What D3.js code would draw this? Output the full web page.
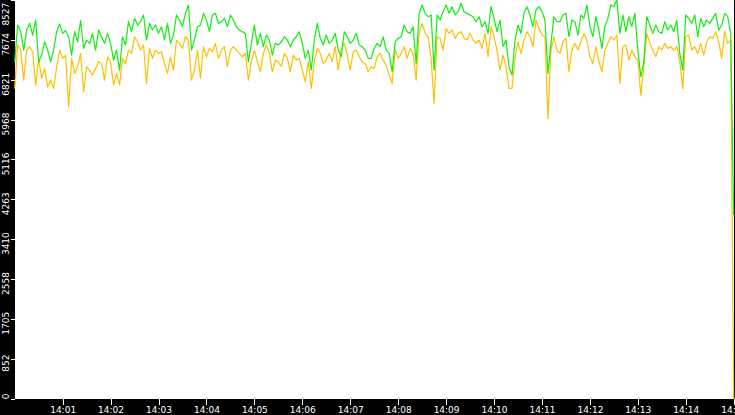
<!DOCTYPE html>
<html>
<head>
<meta charset="utf-8">
<style>
  html, body { margin: 0; padding: 0; background: #000; overflow: hidden; }
  svg { display: block; }
  .axis text { fill: #fff; font-family: 'DejaVu Sans', Verdana, sans-serif; font-size: 9px; }
  .axis line { stroke: #fff; shape-rendering: crispEdges; }
  .axis .domain { display: none; }
  .series { fill: none; stroke-width: 1.2px; stroke-linejoin: round; }
</style>
</head>
<body>
<svg width="735" height="415"></svg>
<script src="https://d3js.org/d3.v7.min.js"></script>
<script>
// sampling window of the two series
const startTime = "2024-01-01T14:00:00";
const endTime = "2024-01-01T14:15:00";

const xTickLabels = ["14:01", "14:02", "14:03", "14:04", "14:05", "14:06", "14:07", "14:08",
    "14:09", "14:10", "14:11", "14:12", "14:13", "14:14", "14:15"];
const yTickLabels = ["0", "852", "1705", "2558", "3410", "4263", "5116", "5968", "6821", "7674", "8527"];

// green series (upper)
const series1 = [
    7206, 7991, 7849, 7456, 7884, 8027, 7777, 8098, 7206, 7349, 7634, 7456, 7206, 7456, 7849, 8013, 7813, 7870, 7741, 7349,
    7849, 7634, 8084, 7491, 7670, 7599, 7813, 7456, 7884, 7741,
    7599, 7813, 7599, 7241, 7456, 7027, 7741, 7563, 8063, 7849, 8134, 7991, 8063, 8206, 7670, 8027, 7884, 7991, 7813, 7956,
    7670, 8027, 7599, 7777, 8206, 8098, 7956, 8241, 8420, 7456,
    7670, 7956, 7991, 8241, 8098, 7849, 8206, 8241, 8027, 8063, 8134, 7956, 8206, 8098, 7956, 7884, 7849, 7813, 7206, 7599,
    7991, 7563, 7813, 7527, 7777, 7670, 7349, 7599, 7563, 7634,
    7741, 7670, 7527, 7670, 7741, 7849, 7599, 7277, 7456, 7027, 7670, 8027, 7706, 7563, 7777, 7599, 7670, 7813, 7456, 7313,
    7849, 7741, 7599, 7670, 7813, 7563, 7527, 7456, 7277, 7277,
    7491, 7599, 7527, 7741, 7456, 7384, 6991, 7634, 7706, 7741, 7991, 7849, 7813, 7956, 7170, 8241, 8420, 8241, 8170, 8206,
    7027, 8206, 8098, 8277, 8420, 8241, 8384, 8206, 8277, 8456, 8277,
    8241, 8206, 8170, 8063, 8170, 7956, 8063, 7813, 8384, 8134, 7849, 8098, 7527, 7670, 7099, 6920, 7670, 7991, 7813, 8241,
    8384, 8206, 7956, 8313, 8384, 8277, 8098, 6956, 7599, 8170, 8063,
    8063, 8206, 8241, 7741, 8098, 8063, 7777, 8206, 8134, 8420, 7956, 7741, 8170, 7884, 7491, 7956, 8134, 8420, 8384, 8527,
    7813, 8206, 7849, 8170, 7956, 8241, 7456, 6884, 7206, 8170, 7991, 7813, 7991, 7849, 7813, 8063, 7884, 7991, 7849, 8098,
    7384, 7027, 8206, 8134, 8027, 8206, 7741, 8134, 7956, 8098, 8027, 8134, 8241, 7884, 7991, 8241, 8170, 7813,
    3920
];

// yellow series (lower)
const series2 = [
    6634, 7563, 7456, 6813, 7456, 7527, 7420, 6706, 7277, 6849, 7063, 6670, 6813, 6634, 7099, 7456, 7277, 7349, 6242, 7277,
    6956, 7099, 7384, 6563, 7099, 7027, 6920, 7063, 7206, 7170,
    6813, 7313, 7206, 6706, 6956, 6706, 7277, 7170, 7456, 7384, 7741, 7634, 7456, 7563, 6741, 7491, 7277, 7456, 7384, 7420,
    7170, 6956, 7313, 7027, 7670, 7599, 7491, 7741, 7670, 6813,
    7027, 7456, 6849, 7527, 7313, 7491, 7420, 7599, 7277, 7456, 7527, 7099, 7456, 7527, 7456, 7384, 7313, 7384, 6813, 7206,
    7456, 7206, 6991, 7384, 7563, 7384, 6991, 7241, 7206, 7099,
    7384, 7277, 6991, 7349, 7241, 7277, 7027, 6777, 7206, 6634, 7206, 7491, 7384, 7170, 7241, 7384, 7206, 7527, 7027, 7456,
    7599, 7349, 7027, 7420, 7456, 7313, 7206, 7170, 6991, 7099,
    7063, 7313, 7384, 7241, 7134, 6920, 6741, 7456, 7277, 7384, 7527, 7277, 7491, 7384, 6813, 7813, 8027, 7813, 7741, 7277,
    6313, 7741, 7706, 7456, 7920, 7813, 7884, 7706, 7813, 7849, 7706,
    7670, 7813, 7670, 7599, 7670, 7491, 7813, 7313, 7956, 7741, 7456, 7027, 7349, 7099, 6634, 6634, 7277, 7634, 7384, 7670,
    7849, 7741, 7527, 8098, 7920, 7777, 7741, 5992, 7456, 7741, 7456,
    7384, 7634, 7706, 6991, 7456, 7599, 7456, 7634, 7813, 7670, 7313, 7170, 7527, 7206, 6991, 7456, 7599, 7741, 7670, 7777,
    6741, 7527, 7563, 7241, 7456, 7313, 7241, 6492, 7099, 7813, 7599, 7456, 7313, 7527, 7456, 7599, 7491, 7527, 7456, 7527,
    7206, 6634, 7741, 7777, 7456, 7527, 7384, 7599, 7349, 7634, 7741, 7706, 7849, 7634, 7277, 7849, 7599, 7670,
    0
];

let width = 735;
let height = 415;
let margin = { top: 0, right: 1.3, bottom: 16, left: 14.7 };
let plotBottom = height - margin.bottom;

let svg = d3.select("svg");

let t0 = new Date(startTime);
let t1 = new Date(endTime);
let step = (t1 - t0) / (series1.length - 1);
let times = series1.map((d, i) => new Date(t0.getTime() + i * step));

let x = d3.scaleTime()
    .domain([t0, t1])
    .range([margin.left, width - margin.right]);

let y = d3.scaleLinear()
    .domain([0, d3.max(series1)])
    .range([plotBottom - 0.5, margin.top]);

// black frame, white plot
svg.append("rect")
    .attr("width", width)
    .attr("height", height)
    .style("fill", "#000");

svg.append("rect")
    .attr("x", 15)
    .attr("y", 0)
    .attr("width", width - 15 - 1)
    .attr("height", plotBottom)
    .style("fill", "#fff");

let line = d3.line()
    .x((d, i) => x(times[i]))
    .y(d => y(d));

svg.append("path")
    .attr("class", "series")
    .attr("d", line(series2))
    .style("stroke", "#ffc000");

svg.append("path")
    .attr("class", "series")
    .attr("d", line(series1))
    .style("stroke", "#11ee11");

// x axis
let parseMin = d3.timeParse("%Y-%m-%dT%H:%M");
let xAxisSettings = d3.axisBottom(x)
    .tickValues(xTickLabels.map(s => parseMin(startTime.slice(0, 11) + s)))
    .tickFormat(d3.timeFormat("%H:%M"))
    .tickSize(6)
    .tickPadding(1.5);

svg.append("g")
    .attr("class", "x axis")
    .attr("transform", `translate(0,${plotBottom})`)
    .call(xAxisSettings);

// y axis, labels rotated and kept inside the frame
let yAxis = svg.append("g").attr("class", "y axis");
let yTicks = yAxis.selectAll("g")
    .data(yTickLabels)
    .join("g");

yTicks.append("line")
    .attr("x1", 10.5)
    .attr("x2", 15)
    .attr("y1", d => Math.round(y(+d)) + 0.5)
    .attr("y2", d => Math.round(y(+d)) + 0.5);

yTicks.append("text")
    .attr("text-anchor", "middle")
    .text(d => d)
    .attr("transform", function (d) {
        let len = this.getComputedTextLength();
        let c = y(+d) + 4.5;
        c = Math.max(c, len / 2 + 2.7);
        c = Math.min(c, plotBottom + 0.3 - len / 2);
        return `translate(9.3,${c}) rotate(-90)`;
    });
</script>
</body>
</html>
